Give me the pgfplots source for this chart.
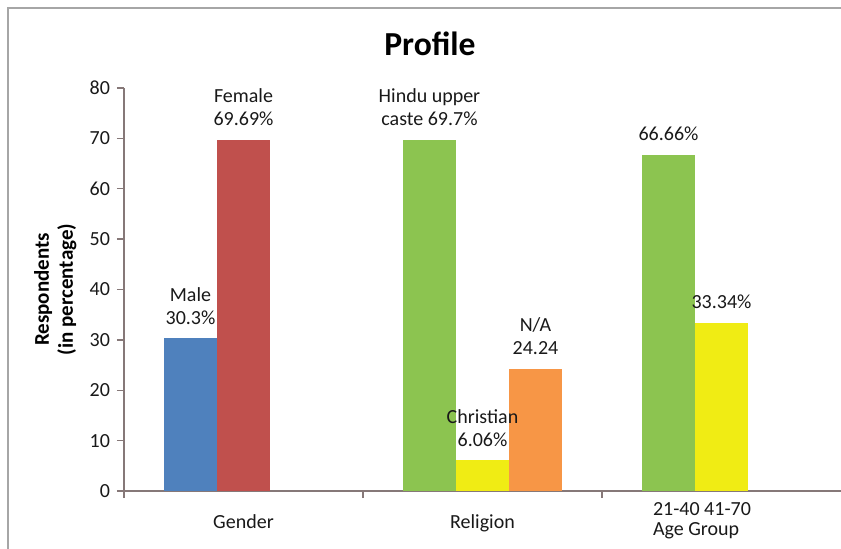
\documentclass[border=0pt]{standalone}
\usepackage{pgfplots}
\pgfplotsset{compat=1.18}
\usepackage{fontspec}
\setmainfont{Carlito}
\definecolor{xlblue}{RGB}{79,129,189}
\definecolor{xlred}{RGB}{192,80,77}
\definecolor{xlgreen}{RGB}{140,196,80}
\definecolor{xlyellow}{RGB}{240,236,20}
\definecolor{xlorange}{RGB}{247,150,70}
\definecolor{axgray}{RGB}{134,120,120}

\begin{document}
\begin{tikzpicture}
\useasboundingbox (0pt,0pt) rectangle (420.5pt,274pt);
\draw[gray!70, line width=0.8pt] (4pt,-5pt) -- (4pt,270pt) -- (430pt,270pt);
\node[font=\fontsize{16.8}{18}\selectfont\bfseries] at (215pt,252pt) {Profile};
\begin{axis}[
    at={(62pt,28.5pt)}, anchor=south west,
    scale only axis,
    width=358.5pt, height=201.5pt,
    xmin=-0.5, xmax=2.5,
    ymin=0, ymax=80,
    ytick={0,10,...,80},
    % boundary ticks between the groups
    xtick={-0.5,0.5,1.5},
    xticklabels={},
    % group names at the group centres
    extra x ticks={0,1},
    extra x tick labels={Gender, Religion},
    extra x tick style={major tick style={draw=none}},
    axis x line*=bottom,
    axis y line*=left,
    axis line style={axgray, line width=0.7pt},
    every tick/.style={axgray, line width=0.7pt},
    tick align=outside,
    major tick length=3.5pt,
    ticklabel style={font=\fontsize{10}{12}\selectfont, text=black!90},
    xticklabel style={yshift=-5pt},
    /pgf/number format/assume math mode=true,
    ylabel={Respondents\\(in percentage)},
    ylabel style={at={(axis description cs:-0.096,0.5)}, anchor=center,
        align=center, font=\fontsize{10.5}{12}\selectfont\bfseries},
    ybar, bar width=0.2218,
    every node near coord/.append style={align=center, anchor=south, yshift=3.5pt,
        font=\fontsize{10}{11.5}\selectfont, text=black!90},
    clip=false,
]
% Gender
\addplot[fill=xlblue, draw=none, bar shift=-0.2218, nodes near coords={Male\\30.3\%}] coordinates {(0,30.3)};
\addplot[fill=xlred, draw=none, bar shift=0, nodes near coords={Female\\69.69\%}] coordinates {(0,69.69)};
% Religion
\addplot[fill=xlgreen, draw=none, bar shift=-0.2218, nodes near coords={Hindu upper\\caste 69.7\%}] coordinates {(1,69.7)};
\addplot[fill=xlyellow, draw=none, bar shift=0, nodes near coords={Christian\\6.06\%}] coordinates {(1,6.06)};
\addplot[fill=xlorange, draw=none, bar shift=0.2218, nodes near coords={N/A\\24.24}] coordinates {(1,24.24)};
% Age group
\addplot[fill=xlgreen, draw=none, bar shift=-0.2218, nodes near coords={66.66\%}] coordinates {(2,66.66)};
\addplot[fill=xlyellow, draw=none, bar shift=0, nodes near coords={33.34\%}] coordinates {(2,33.34)};
\node[anchor=north west, align=left, font=\fontsize{10}{10}\selectfont, text=black!90]
    at (axis cs:1.684,0) [yshift=-2pt] {21-40 41-70\\Age Group};
\end{axis}
\end{tikzpicture}
\end{document}
